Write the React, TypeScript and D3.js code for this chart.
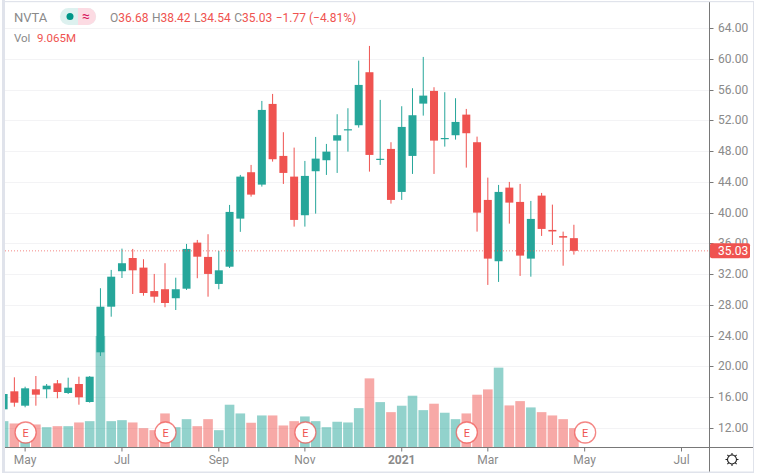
import React from 'react';
import * as d3 from 'd3';

const WIDTH = 757;
const HEIGHT = 473;
const AXIS_X = 709.5;
const BASE_Y = 447.5;
const RIGHT_EDGE = 753;

// weekly candles, oldest first
const opens = [14.43, 16.77, 14.9, 17.03, 17.03, 17.81, 16.55, 17.72, 15.38, 21.84, 27.77, 32.38, 34.1, 32.85, 29.8, 30.04, 28.87, 30.11, 36.1, 34.24, 30.73, 32.97, 39.22, 45.25, 43.64, 54.13, 47.37, 44.68, 39.66, 45.38, 46.81, 49.36, 50.7, 51.36, 58.25, 46.88, 48.28, 42.69, 47.37, 54.17, 55.82, 49.6, 50.06, 52.74, 49.15, 41.65, 33.68, 43.25, 41.39, 34.02, 42.21, 37.75, 36.95, 36.68];
const highs = [16.6, 18.59, 17.37, 18.76, 17.72, 18.24, 18.54, 18.67, 18.75, 30.17, 32.55, 35.32, 35.28, 33.94, 32.03, 33.42, 31.54, 35.93, 36.45, 37.19, 35.02, 41, 44.9, 46.2, 54.52, 55.43, 50.45, 48.45, 46.72, 49.84, 48.93, 52.79, 53.57, 59.76, 61.67, 54.65, 49.15, 53.83, 56.17, 60.24, 56.3, 55.65, 54.87, 53.48, 49.88, 44.55, 43.6, 43.99, 43.73, 41.52, 42.56, 41.04, 37.53, 38.42];
const lows = [14.3, 14.77, 14.69, 14.9, 15.86, 15.86, 16.42, 15.03, 15.3, 21.36, 26.47, 31.5, 29.42, 29.2, 28.29, 27.7, 27.34, 29.95, 31.47, 29.07, 30.04, 32.8, 37.5, 42.08, 43.38, 46.63, 43.73, 38.18, 38.18, 39.87, 44.9, 45.16, 47.93, 51.05, 45.33, 46.2, 41.17, 41.65, 45.03, 52.61, 45.03, 48.58, 49.49, 45.85, 37.53, 30.6, 30.99, 38.57, 31.77, 31.67, 36.97, 35.8, 33.1, 34.54];
const closes = [16.42, 15.29, 17.16, 16.33, 17.5, 16.68, 17.24, 15.99, 18.67, 27.77, 31.67, 33.42, 32.5, 29.55, 29.07, 28.25, 30.04, 35.28, 34.27, 32.03, 32.5, 40.09, 44.68, 42.34, 53.35, 46.94, 45.16, 39.05, 44.77, 47.02, 47.93, 50.06, 50.84, 56.6, 47.5, 47, 41.65, 51.14, 52.66, 55.21, 49.36, 49.7, 51.79, 50.32, 40, 34.02, 42.69, 41.3, 34.41, 39.18, 37.88, 37.55, 36.75, 35.03];
const volumes = [12.35, 11.27, 11.27, 10.8, 9.53, 10, 10, 11.74, 12.35, 52.28, 12.35, 12.82, 11.74, 9.07, 8.13, 15.97, 9.53, 13.29, 10, 13.29, 8.13, 20.06, 15.97, 11.6, 15.03, 15.03, 10.33, 12.35, 14.56, 12.35, 9.53, 12.07, 11.74, 18.46, 32.41, 21.28, 16.58, 19.59, 24.28, 17.52, 20.53, 16.3, 13.29, 15.97, 24.75, 27.24, 37.44, 19.73, 21.75, 18.79, 16.58, 15.03, 13.29, 9.065];

const priceTicks = [12, 16, 20, 24, 28, 32, 36, 40, 44, 48, 52, 56, 60, 64];
const monthLabels = ['May', 'Jul', 'Sep', 'Nov', '2021', 'Mar', 'May', 'Jul'];
const monthIndex = [2, 11, 20, 28, 37, 45, 54, 63];
const earnings = [2, 15, 28, 43, 54];
const lastClose = 35.03;

const UP = '#26a69a';
const DOWN = '#ef5350';
const TEXT = '#8a8a8a';
const FONT = 'Roboto, "Open Sans", sans-serif';

const x = d3.scaleLinear().domain([0, 63]).range([3.6, 681.5]);
const y = d3.scaleLinear().domain([12, 64]).range([428, 28]);
const vol = d3.scaleLinear().domain([0, 52.28]).range([BASE_Y, 336]);

const candleW = 8;
const volW = 9.6;

export default function App() {
  return (
    <svg
      width={WIDTH}
      height={HEIGHT}
      style={{ position: 'absolute', left: 0, top: 0, display: 'block', background: '#fff' }}
      fontFamily={FONT}
    >
      {/* frame */}
      <rect x={0} y={0} width={WIDTH} height={HEIGHT} fill="#fff" />

      {/* grid */}
      {priceTicks.map(t => (
        <line key={t} x1={5} x2={AXIS_X} y1={Math.round(y(t)) + 0.5} y2={Math.round(y(t)) + 0.5} stroke="#f3f3f5" />
      ))}

      {/* volume */}
      <defs>
        <clipPath id="plot">
          <rect x={5} y={2} width={AXIS_X - 5} height={BASE_Y - 2} />
        </clipPath>
      </defs>
      <g clipPath="url(#plot)">
        {volumes.map((v, i) => (
          <rect
            key={i}
            x={x(i) - volW / 2}
            y={vol(v)}
            width={volW}
            height={BASE_Y - vol(v)}
            fill={closes[i] >= opens[i] ? UP : DOWN}
            fillOpacity={0.5}
          />
        ))}

        {/* candles */}
        {closes.map((c, i) => {
          const color = c >= opens[i] ? UP : DOWN;
          const top = y(Math.max(c, opens[i]));
          const h = Math.max(1.2, Math.abs(y(c) - y(opens[i])));
          return (
            <g key={i}>
              <line x1={x(i)} x2={x(i)} y1={y(highs[i])} y2={y(lows[i])} stroke={color} strokeWidth={1} />
              <rect x={x(i) - candleW / 2} y={top} width={candleW} height={h} fill={color} />
            </g>
          );
        })}
      </g>

      {/* last price line */}
      <line x1={5} x2={AXIS_X} y1={y(lastClose)} y2={y(lastClose)} stroke={DOWN} strokeOpacity={0.7} strokeDasharray="1 2" />

      {/* earnings markers */}
      {earnings.map(i => (
        <g key={i} transform={`translate(${x(i) + 0.5},432.5)`}>
          <circle r={10.5} fill="#fff" stroke={DOWN} strokeOpacity={0.7} strokeWidth={1.3} />
          <text textAnchor="middle" y={4} fontSize={11} fill={DOWN}>E</text>
        </g>
      ))}

      {/* axes */}
      <line x1={5} x2={RIGHT_EDGE} y1={BASE_Y} y2={BASE_Y} stroke="#787878" />
      <line x1={AXIS_X} x2={AXIS_X} y1={2} y2={472} stroke="#787878" />
      {priceTicks.map(t => (
        <g key={t}>
          <line x1={AXIS_X} x2={AXIS_X + 4} y1={Math.round(y(t)) + 0.5} y2={Math.round(y(t)) + 0.5} stroke="#787878" />
          <text x={718} y={y(t) + 4} fontSize={12} fill={TEXT}>{t.toFixed(2)}</text>
        </g>
      ))}
      {monthLabels.map((m, i) => (
        <g key={i}>
          <line x1={x(monthIndex[i])} x2={x(monthIndex[i])} y1={BASE_Y} y2={BASE_Y + 4} stroke="#787878" />
          <text
            x={x(monthIndex[i])}
            y={464}
            textAnchor="middle"
            fontSize={12}
            fontWeight={m === '2021' ? 700 : 400}
            fill={TEXT}
          >
            {m}
          </text>
        </g>
      ))}

      {/* last price tag */}
      <rect x={710} y={y(lastClose) - 7.5} width={40} height={15} rx={2} fill={DOWN} />
      <text x={718} y={y(lastClose) + 4} fontSize={12} fill="#fff">{lastClose.toFixed(2)}</text>

      {/* settings gear */}
      <g transform="translate(732,459.5)" fill="none" stroke="#222" strokeWidth={1.1}>
        <circle r={4.5} />
        {d3.range(8).map(k => (
          <line key={k} x1={0} x2={0} y1={-4.5} y2={-6.5} transform={`rotate(${k * 45})`} />
        ))}
      </g>

      {/* legend */}
      <text x={14} y={22} fontSize={13} fill={TEXT}>NVTA</text>
      <rect x={60} y={8} width={36} height={17} rx={8.5} fill="#ddf1ef" />
      <path d="M78 8h9.5a8.5 8.5 0 0 1 0 17H78z" fill="#fcdbe3" />
      <circle cx={70} cy={16.5} r={3.5} fill="#009688" />
      <text x={86} y={21} textAnchor="middle" fontSize={14} fill="#d81b60">≈</text>
      <text x={110} y={22} fontSize={12} fill={TEXT}>
        O<tspan fill={DOWN}>36.68</tspan>
        <tspan dx={3.5}>H</tspan><tspan fill={DOWN}>38.42</tspan>
        <tspan dx={3.5}>L</tspan><tspan fill={DOWN}>34.54</tspan>
        <tspan dx={3.5}>C</tspan><tspan fill={DOWN}>35.03</tspan>
        <tspan dx={3.5} fill={DOWN}>−1.77 (−4.81%)</tspan>
      </text>
      <text x={14} y={42} fontSize={11.5} fill={TEXT}>Vol</text>
      <text x={37} y={42} fontSize={11.5} fill={DOWN}>9.065M</text>

      {/* outer border */}
      <rect x={2} y={0} width={3} height={HEIGHT} fill="#e0e3eb" />
      <rect x={2} y={1} width={RIGHT_EDGE - 2} height={1.2} fill="#e0e3eb" />
      <rect x={2} y={471.5} width={RIGHT_EDGE - 2} height={1.5} fill="#e0e3eb" />
      <rect x={RIGHT_EDGE} y={1} width={1} height={472} fill="#e0e3eb" />
    </svg>
  );
}
